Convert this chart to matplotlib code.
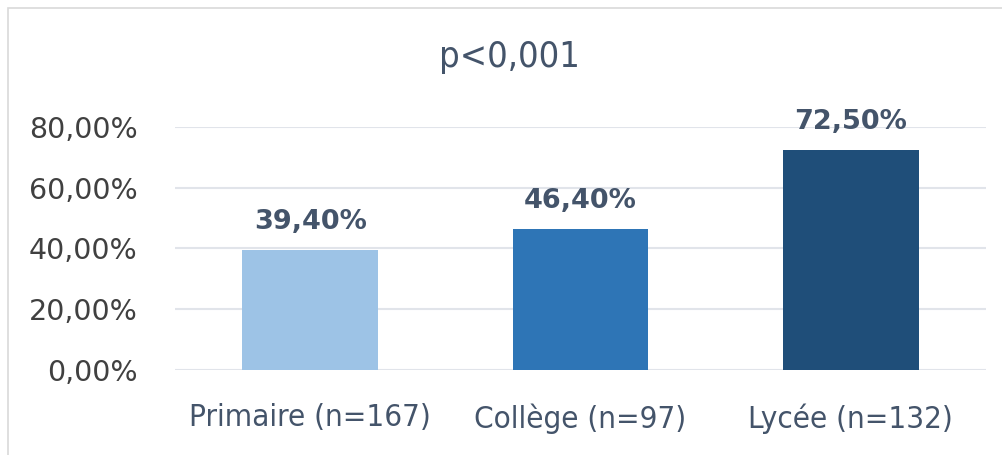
import matplotlib.pyplot as plt
from matplotlib.patches import Rectangle

categories = ["Primaire (n=167)", "Collège (n=97)", "Lycée (n=132)"]
values = [0.394, 0.464, 0.725]
bar_colors = ["#9DC3E6", "#2E75B6", "#1F4E79"]
yticks = [0.0, 0.2, 0.4, 0.6, 0.8]
title = "p<0,001"

text_color = "#44546A"
grid_color = "#E1E4EA"


def pct(v):
    return ("%.2f%%" % (v * 100)).replace(".", ",")


fig = plt.figure(figsize=(10.03, 4.55), dpi=100)
ax = fig.add_axes([175 / 1003, 85 / 455, 811 / 1003, 243.3 / 455])

x = range(len(categories))
bars = ax.bar(x, values, width=0.503, color=bar_colors, zorder=3)

for b, v in zip(bars, values):
    ax.annotate(pct(v), (b.get_x() + b.get_width() / 2, v),
                xytext=(0, 15), textcoords="offset points",
                ha="center", va="baseline", fontsize=19.5, fontweight="bold",
                color=text_color, annotation_clip=False)

ax.set_xlim(-0.5, len(categories) - 0.5)
ax.set_ylim(0, 0.8)
ax.set_yticks(yticks)
ax.set_yticklabels([pct(t) for t in yticks], fontsize=20.5, color="#404040")
ax.set_xticks(list(x))
ax.set_xticklabels(categories, fontsize=22.5, color=text_color,
                   fontstretch="condensed")
ax.tick_params(axis="y", length=0, pad=27)
ax.tick_params(axis="x", length=0, pad=24)
ax.grid(axis="y", color=grid_color, linewidth=1.5, zorder=0)
for s in ax.spines.values():
    s.set_visible(False)

fig.text(509 / 1003, 1 - 57 / 455, title, ha="center", va="center",
         fontsize=26, color=text_color, fontstretch="condensed")

# light frame around the whole chart area
fig.patches.append(Rectangle((8 / 1003, -0.05), 1.1, 1 - 8 / 455 + 0.05,
                             transform=fig.transFigure, fill=False,
                             edgecolor="#D9D9D9", linewidth=1.2))

fig.savefig("out.png", dpi=100)
